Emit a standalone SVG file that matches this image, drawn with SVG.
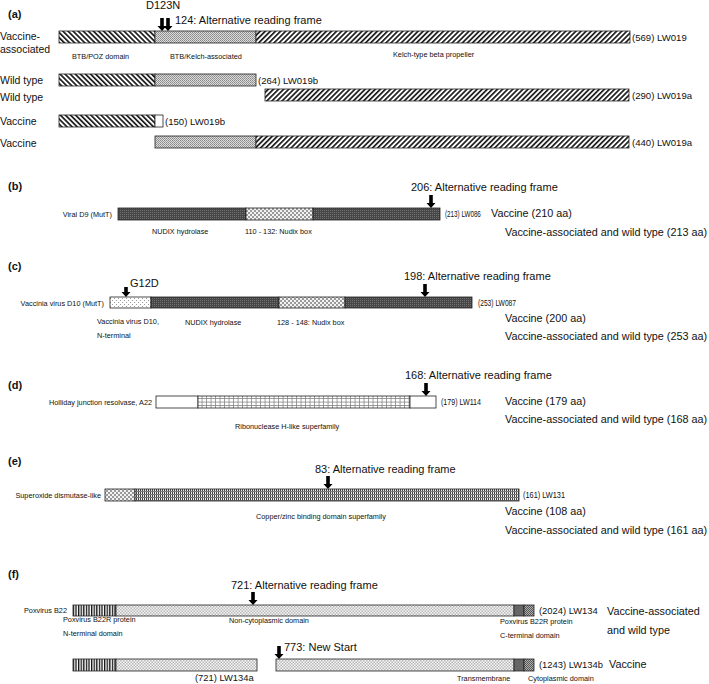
<svg xmlns="http://www.w3.org/2000/svg" width="709" height="684" viewBox="0 0 709 684">
<style>
text{font-family:"Liberation Sans",Arial,sans-serif;fill:#111}
.pl{font-weight:bold;font-size:11px}
.row{font-size:10.5px}
.hd{font-size:11px}
.id{font-size:9.6px}
.ids{font-size:9px}
.idf{font-size:9.4px}
.aa{font-size:10.8px}
.sm{font-size:7.3px}
.seg{stroke:#222;stroke-width:0.8}
.end{text-anchor:end}
</style>
<defs>
<pattern id="pBack" width="3.6" height="3.6" patternUnits="userSpaceOnUse" patternTransform="rotate(-45)"><rect width="3.6" height="3.6" fill="#fff"/><rect width="1.7" height="3.6" fill="#1a1a1a"/></pattern>
<pattern id="pFwd" width="3.6" height="3.6" patternUnits="userSpaceOnUse" patternTransform="rotate(45)"><rect width="3.6" height="3.6" fill="#fff"/><rect width="1.7" height="3.6" fill="#1a1a1a"/></pattern>
<pattern id="pStip" width="2" height="2" patternUnits="userSpaceOnUse"><rect width="2" height="2" fill="#dcdcdc"/><rect width="1" height="1" fill="#888"/><rect x="1" y="1" width="1" height="1" fill="#999"/></pattern>
<pattern id="pDark" width="2" height="2" patternUnits="userSpaceOnUse"><rect width="2" height="2" fill="#474747"/><rect width="1" height="1" fill="#707070"/></pattern>
<pattern id="pCross" width="4" height="4" patternUnits="userSpaceOnUse"><rect width="4" height="4" fill="#f2f2f2"/><rect width="2" height="2" fill="#9a9a9a"/><rect x="2" y="2" width="2" height="2" fill="#9a9a9a"/></pattern>
<pattern id="pLight" width="4" height="4" patternUnits="userSpaceOnUse"><rect width="4" height="4" fill="#fff"/><rect width="1" height="1" fill="#999"/><rect x="2" y="2" width="1" height="1" fill="#999"/></pattern>
<pattern id="pNonCyt" width="3" height="3" patternUnits="userSpaceOnUse"><rect width="3" height="3" fill="#f6f6f6"/><rect width="1.5" height="1.5" fill="#b8b8b8"/><rect x="1.5" y="1.5" width="1.5" height="1.5" fill="#b8b8b8"/></pattern>
<pattern id="pGrid" width="4.5" height="3.5" patternUnits="userSpaceOnUse"><rect width="4.5" height="3.5" fill="#fff"/><rect x="3.7" width="0.8" height="3.5" fill="#888"/><rect y="2.7" width="4.5" height="0.8" fill="#888"/></pattern>
<pattern id="pDense" width="2" height="3" patternUnits="userSpaceOnUse"><rect width="2" height="3" fill="#eee"/><rect width="1" height="3" fill="#444"/><rect y="2" width="2" height="1" fill="#777"/></pattern>
<pattern id="pVert" width="2.6" height="3" patternUnits="userSpaceOnUse"><rect width="2.6" height="3" fill="#fff"/><rect width="1.3" height="3" fill="#111"/></pattern>
<pattern id="pCyto" width="2" height="2" patternUnits="userSpaceOnUse"><rect width="2" height="2" fill="#b0b0b0"/><rect width="1" height="1" fill="#555"/><rect x="1" y="1" width="1" height="1" fill="#555"/></pattern>
<path id="arr" d="M-1.8,0 V8 H-4.5 L0,13 L4.5,8 H1.8 V0 Z" fill="#000"/>
<path id="arrS" d="M-1.8,0 V5 H-4.5 L0,10 L4.5,5 H1.8 V0 Z" fill="#000"/>
</defs>

<!-- Panel a -->
<g id="panel-a">
<text class="pl" x="8" y="18">(a)</text>
<text class="hd" x="146" y="9">D123N</text>
<text class="hd" x="175" y="24">124: Alternative reading frame</text>
<text class="row" x="0" y="40">Vaccine-</text>
<text class="row" x="0" y="53">associated</text>
<text class="row" x="0" y="84">Wild type</text>
<text class="row" x="0" y="101">Wild type</text>
<text class="row" x="0" y="125">Vaccine</text>
<text class="row" x="0" y="147">Vaccine</text>
</g>
<g id="LW019">
<rect class="seg" x="59" y="31" width="96" height="12" fill="url(#pBack)"/>
<rect class="seg" x="155" y="31" width="101" height="12" fill="url(#pStip)"/>
<rect class="seg" x="256" y="31" width="374" height="12" fill="url(#pFwd)"/>
<text class="id" x="632" y="41">(569) LW019</text>
<text class="sm" x="72" y="59">BTB/POZ domain</text>
<text class="sm" x="170" y="59">BTB/Kelch-associated</text>
<text class="sm" x="393" y="57">Kelch-type beta propeller</text>
</g>
<g id="LW019b-wt">
<rect class="seg" x="59" y="74" width="96" height="12" fill="url(#pBack)"/>
<rect class="seg" x="155" y="74" width="101" height="12" fill="url(#pStip)"/>
<text class="id" x="258" y="84">(264) LW019b</text>
</g>
<g id="LW019a-wt">
<rect class="seg" x="265" y="89" width="364" height="12" fill="url(#pFwd)"/>
<text class="id" x="632" y="99">(290) LW019a</text>
</g>
<g id="LW019b-vac">
<rect class="seg" x="59" y="115" width="96" height="12" fill="url(#pBack)"/>
<rect class="seg" x="155" y="115" width="8" height="12" fill="#fff"/>
<text class="id" x="165" y="125">(150) LW019b</text>
</g>
<g id="LW019a-vac">
<rect class="seg" x="155" y="136" width="101" height="12" fill="url(#pStip)"/>
<rect class="seg" x="256" y="136" width="373" height="12" fill="url(#pFwd)"/>
<text class="id" x="632" y="146">(440) LW019a</text>
</g>

<!-- Panel b -->
<g id="LW086">
<text class="pl" x="8" y="190">(b)</text>
<text class="hd" x="411" y="191">206: Alternative reading frame</text>
<text class="sm end" x="112" y="217">Viral D9 (MutT)</text>
<rect class="seg" x="118" y="208" width="128" height="12" fill="url(#pDark)"/>
<rect class="seg" x="246" y="208" width="67" height="12" fill="url(#pCross)"/>
<rect class="seg" x="313" y="208" width="127" height="12" fill="url(#pDark)"/>
<text class="ids" transform="translate(445,217) scale(0.7,1)">(213) LW086</text>
<text class="aa" x="491" y="217">Vaccine (210 aa)</text>
<text class="aa" x="505" y="236">Vaccine-associated  and wild type (213 aa)</text>
<text class="sm" x="152" y="234">NUDIX hydrolase</text>
<text class="sm" x="245" y="234">110 - 132: Nudix box</text>
</g>

<!-- Panel c -->
<g id="LW087">
<text class="pl" x="8" y="270">(c)</text>
<text class="hd" x="130" y="287">G12D</text>
<text class="hd" x="404" y="280">198: Alternative reading frame</text>
<text class="sm end" x="104" y="306">Vaccinia virus D10 (MutT)</text>
<rect class="seg" x="110" y="297" width="41" height="11" fill="url(#pLight)"/>
<rect class="seg" x="151" y="297" width="128" height="11" fill="url(#pDark)"/>
<rect class="seg" x="279" y="297" width="66" height="11" fill="url(#pCross)"/>
<rect class="seg" x="345" y="297" width="127" height="11" fill="url(#pDark)"/>
<text class="ids" x="478" y="306" textLength="38" lengthAdjust="spacingAndGlyphs">(253) LW087</text>
<text class="aa" x="505" y="322">Vaccine (200 aa)</text>
<text class="aa" x="505" y="340">Vaccine-associated  and wild type (253 aa)</text>
<text class="sm" x="97" y="324">Vaccinia virus D10,</text>
<text class="sm" x="97" y="338">N-terminal</text>
<text class="sm" x="185" y="325">NUDIX hydrolase</text>
<text class="sm" x="277" y="325">128 - 148: Nudix box</text>
</g>

<!-- Panel d -->
<g id="LW114">
<text class="pl" x="8" y="389">(d)</text>
<text class="hd" x="405" y="379">168: Alternative reading frame</text>
<text class="sm end" x="152" y="405">Holliday junction resolvase, A22</text>
<rect class="seg" x="156" y="396" width="42" height="12" fill="#fff"/>
<rect class="seg" x="198" y="396" width="212" height="12" fill="url(#pGrid)"/>
<rect class="seg" x="410" y="396" width="26" height="12" fill="#fff"/>
<text class="ids" x="441" y="405" textLength="40" lengthAdjust="spacingAndGlyphs">(179) LW114</text>
<text class="aa" x="505" y="405">Vaccine (179 aa)</text>
<text class="aa" x="505" y="423">Vaccine-associated  and wild type (168 aa)</text>
<text class="sm" x="235" y="429">Ribonuclease H-like superfamily</text>
</g>

<!-- Panel e -->
<g id="LW131">
<text class="pl" x="8" y="465">(e)</text>
<text class="hd" x="315" y="473">83: Alternative reading frame</text>
<text class="sm end" x="101" y="498">Superoxide dismutase-like</text>
<rect class="seg" x="105" y="489" width="30" height="12" fill="url(#pCross)"/>
<rect class="seg" x="135" y="489" width="384" height="12" fill="url(#pDense)"/>
<text class="ids" x="523" y="498" textLength="42" lengthAdjust="spacingAndGlyphs">(161) LW131</text>
<text class="aa" x="505" y="515">Vaccine (108 aa)</text>
<text class="aa" x="505" y="534">Vaccine-associated  and wild type (161 aa)</text>
<text class="sm" x="256" y="519">Copper/zinc binding domain superfamily</text>
</g>

<!-- Panel f -->
<g id="LW134">
<text class="pl" x="8" y="578">(f)</text>
<text class="hd" x="231" y="589">721: Alternative reading frame</text>
<text class="sm end" x="67" y="613">Poxvirus B22</text>
<rect class="seg" x="73" y="605" width="43" height="11" fill="url(#pVert)"/>
<rect class="seg" x="116" y="605" width="398" height="11" fill="url(#pNonCyt)"/>
<rect class="seg" x="514" y="605" width="10" height="11" fill="#666"/>
<rect class="seg" x="524" y="605" width="10" height="11" fill="url(#pCyto)"/>
<text class="idf" x="539" y="614">(2024) LW134</text>
<text class="aa" x="607" y="615">Vaccine-associated</text>
<text class="aa" x="607" y="634">and wild type</text>
<text class="sm" x="63" y="622">Poxvirus B22R protein</text>
<text class="sm" x="63" y="636">N-terminal domain</text>
<text class="sm" x="229" y="623">Non-cytoplasmic domain</text>
<text class="sm" x="500" y="624">Poxvirus B22R protein</text>
<text class="sm" x="500" y="638">C-terminal domain</text>
</g>
<g id="LW134a">
<rect class="seg" x="73" y="659" width="43" height="12" fill="url(#pVert)"/>
<rect class="seg" x="116" y="659" width="141" height="12" fill="url(#pNonCyt)"/>
<text class="idf" x="195" y="681">(721) LW134a</text>
</g>
<g id="LW134b">
<text class="hd" x="284" y="651">773: New Start</text>
<rect class="seg" x="276" y="659" width="238" height="12" fill="url(#pNonCyt)"/>
<rect class="seg" x="514" y="659" width="10" height="12" fill="#666"/>
<rect class="seg" x="524" y="659" width="10" height="12" fill="url(#pCyto)"/>
<text class="idf" x="539" y="668">(1243) LW134b</text>
<text class="aa" x="609" y="668">Vaccine</text>
<text class="sm" x="457" y="681">Transmembrane</text>
<text class="sm" x="528" y="681">Cytoplasmic domain</text>
</g>

<g id="connectors">
<use href="#arr" x="162" y="18"/>
<use href="#arr" x="168" y="18"/>
<use href="#arr" x="431" y="195"/>
<use href="#arrS" x="126" y="287"/>
<use href="#arr" x="425" y="284"/>
<use href="#arr" x="426" y="383"/>
<use href="#arr" x="328" y="476"/>
<use href="#arr" x="253" y="592"/>
<use href="#arr" x="279" y="646"/>
</g>
</svg>
